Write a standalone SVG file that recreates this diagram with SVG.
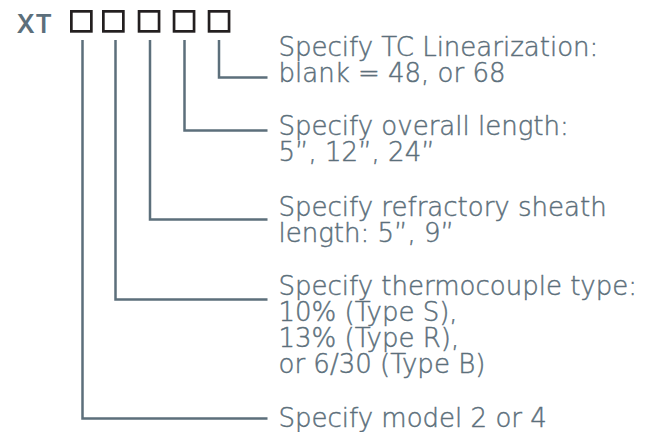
<svg xmlns="http://www.w3.org/2000/svg" width="660" height="432" viewBox="0 0 660 432">
<style>
.lbl{font-family:"DejaVu Sans","Liberation Sans",sans-serif;font-weight:200;font-size:26px;fill:#5c6f7b;stroke:#5c6f7b;stroke-width:0.45}
.code{font-family:Inter,"DejaVu Sans",sans-serif;font-weight:600;font-size:25.5px;fill:#5c6f7b;letter-spacing:1.5px}
.box{fill:none;stroke:#231f20;stroke-width:2.7}
.conn{fill:none;stroke:#5c6f7b;stroke-width:2.5}
</style>
<rect width="660" height="432" fill="#fff"/>
<g id="code">
<text class="code" x="16.5" y="32.7">XT</text>
<rect class="box" x="71.35" y="11.35" width="20" height="20"/>
<rect class="box" x="103.35" y="11.35" width="20" height="20"/>
<rect class="box" x="139.05" y="11.35" width="20" height="20"/>
<rect class="box" x="174.05" y="11.35" width="20" height="20"/>
<rect class="box" x="209.05" y="11.35" width="20" height="20"/>
</g>
<g id="connectors">
<polyline class="conn" points="219,40 219,77.5 267.5,77.5"/>
<polyline class="conn" points="184.5,40 184.5,130.5 267.5,130.5"/>
<polyline class="conn" points="150,40 150,219.5 267.5,219.5"/>
<polyline class="conn" points="115.5,40 115.5,299.5 267.5,299.5"/>
<polyline class="conn" points="82.5,40 82.5,418.5 267.5,418.5"/>
</g>
<g id="linearization">
<text class="lbl" x="278.5" y="56">Specify TC Linearization:<tspan x="278.5" dy="26">blank = 48, or 68</tspan></text>
</g>
<g id="overall-length">
<text class="lbl" x="278.5" y="135">Specify overall length:<tspan x="278.5" dy="26">5”, 12”, 24”</tspan></text>
</g>
<g id="sheath-length">
<text class="lbl" x="278.5" y="215.5">Specify refractory sheath<tspan x="278.5" dy="26">length: 5”, 9”</tspan></text>
</g>
<g id="thermocouple-type">
<text class="lbl" x="278.5" y="295">Specify thermocouple type:<tspan x="278.5" dy="26">10% (Type S),</tspan><tspan x="278.5" dy="26">13% (Type R),</tspan><tspan x="278.5" dy="26">or 6/30 (Type B)</tspan></text>
</g>
<g id="model">
<text class="lbl" x="278.5" y="427">Specify model 2 or 4</text>
</g>
</svg>
